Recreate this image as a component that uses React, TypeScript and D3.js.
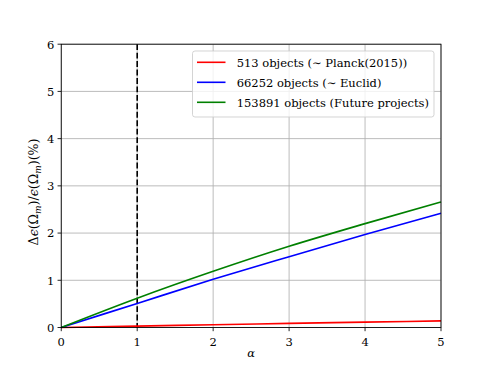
import React from "react";
import * as d3 from "d3";

const alphaValues = [0, 1, 2, 3, 4, 5];
const planckValues = [0, 0.03, 0.058, 0.087, 0.114, 0.14];
const euclidValues = [0, 0.51, 1.02, 1.5, 1.97, 2.42];
const futureValues = [0, 0.62, 1.19, 1.72, 2.2, 2.66];
const seriesLabels = [
  "513 objects (\u223C Planck(2015))",
  "66252 objects (\u223C Euclid)",
  "153891 objects (Future projects)",
];
const seriesColors = ["#ff0000", "#0000ff", "#008000"];
const xTicks = [0, 1, 2, 3, 4, 5];
const yTicks = [0, 1, 2, 3, 4, 5, 6];
const dashedAlpha = 1;

const W = 490;
const H = 368;
const margin = { left: 61.25, right: 441, top: 44.2, bottom: 327.5 };
const FONT = "DejaVu Serif";

export default function App() {
  const x = d3.scaleLinear().domain([0, 5]).range([margin.left, margin.right]);
  const y = d3.scaleLinear().domain([0, 6]).range([margin.bottom, margin.top]);
  const line = d3
    .line<[number, number]>()
    .x((d) => x(d[0]))
    .y((d) => y(d[1]))
    .curve(d3.curveMonotoneX);
  const series = [planckValues, euclidValues, futureValues].map((vals) =>
    alphaValues.map((a, i) => [a, vals[i]] as [number, number])
  );
  const fs = 11.5;
  const legX = 192.5, legY = 51, legW = 241.5, legH = 66;
  return (
    <svg
      width={W}
      height={H}
      style={{ position: "absolute", left: 0, top: 0, background: "#fff" }}
      fontFamily={FONT}
    >
      <rect x={0} y={0} width={W} height={H} fill="#fff" />
      <g>
        {xTicks.map((t) => (
          <line key={"gx" + t} x1={x(t)} x2={x(t)} y1={margin.top} y2={margin.bottom} stroke="#b0b0b0" strokeWidth={0.85} />
        ))}
        {yTicks.map((t) => (
          <line key={"gy" + t} x1={margin.left} x2={margin.right} y1={y(t)} y2={y(t)} stroke="#b0b0b0" strokeWidth={0.85} />
        ))}
      </g>
      <line
        x1={x(dashedAlpha)}
        x2={x(dashedAlpha)}
        y1={margin.top}
        y2={margin.bottom}
        stroke="#000"
        strokeWidth={1.6}
        strokeDasharray="5.9 2.55"
      />
      {series.map((s, i) => (
        <path key={i} d={line(s) || ""} fill="none" stroke={seriesColors[i]} strokeWidth={1.6} />
      ))}
      <rect
        x={margin.left}
        y={margin.top}
        width={margin.right - margin.left}
        height={margin.bottom - margin.top}
        fill="none"
        stroke="#000"
        strokeWidth={0.85}
      />
      {xTicks.map((t) => (
        <g key={"tx" + t}>
          <line x1={x(t)} x2={x(t)} y1={margin.bottom} y2={margin.bottom + 3.7} stroke="#000" strokeWidth={0.85} />
          <text x={x(t)} y={margin.bottom + 18} textAnchor="middle" fontSize={fs}>
            {t}
          </text>
        </g>
      ))}
      {yTicks.map((t) => (
        <g key={"ty" + t}>
          <line x1={margin.left - 3.7} x2={margin.left} y1={y(t)} y2={y(t)} stroke="#000" strokeWidth={0.85} />
          <text x={margin.left - 7} y={y(t) + 4.4} textAnchor="end" fontSize={fs}>
            {t}
          </text>
        </g>
      ))}
      <text x={(margin.left + margin.right) / 2} y={357} textAnchor="middle" fontSize={fs} fontStyle="italic">
        {"\u03B1"}
      </text>
      <text transform={`translate(38,192) rotate(-90)`} textAnchor="middle" fontSize={12.6}>
        <tspan>{"\u0394"}</tspan>
        <tspan fontStyle="italic">{"\u03F5"}</tspan>
        <tspan>{"(\u03A9"}</tspan>
        <tspan fontStyle="italic" fontSize={9} dy={2.5}>m</tspan>
        <tspan dy={-2.5}>{")/"}</tspan>
        <tspan fontStyle="italic">{"\u03F5"}</tspan>
        <tspan>{"(\u03A9"}</tspan>
        <tspan fontStyle="italic" fontSize={9} dy={2.5}>m</tspan>
        <tspan dy={-2.5}>{")(%)"}</tspan>
      </text>
      <rect x={legX} y={legY} width={legW} height={legH} rx={2.5} fill="#fff" fillOpacity={0.8} stroke="#cccccc" strokeWidth={0.85} />
      {seriesLabels.map((lab, i) => (
        <g key={"leg" + i}>
          <line x1={197} x2={225.5} y1={62.3 + i * 20} y2={62.3 + i * 20} stroke={seriesColors[i]} strokeWidth={1.6} />
          <text x={236.7} y={62.3 + i * 20 + 4.2} fontSize={fs}>
            {lab}
          </text>
        </g>
      ))}
    </svg>
  );
}
